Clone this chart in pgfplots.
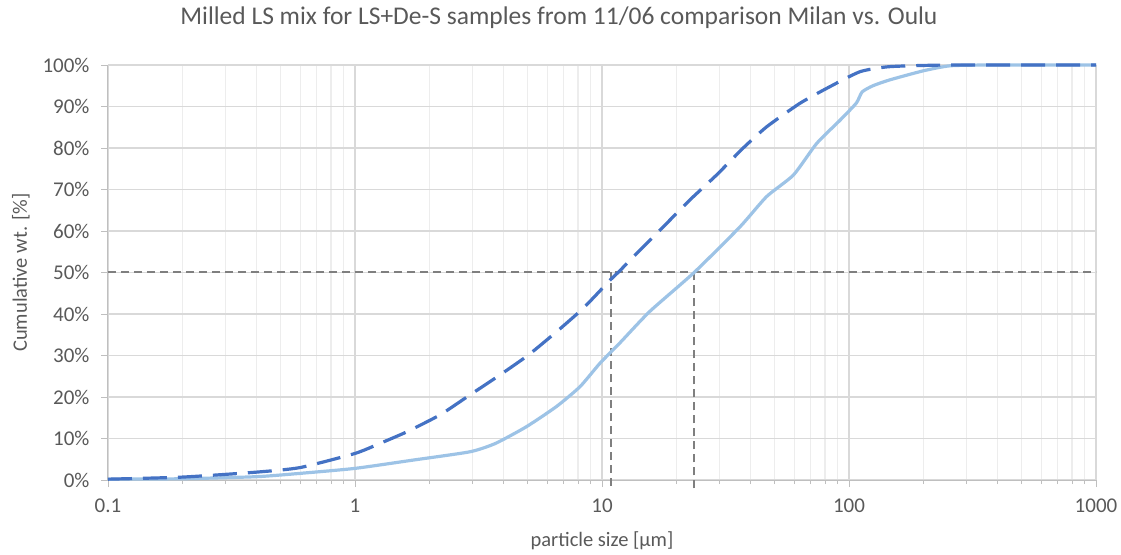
\documentclass[border=0pt]{standalone}
\usepackage{pgfplots}
\pgfplotsset{compat=1.18}
\usepackage{fontspec}
\setmainfont{Carlito}
\definecolor{darkblue}{HTML}{4472C4}
\definecolor{lightblue}{HTML}{9DC3E6}
\definecolor{refgray}{HTML}{7F7F7F}
\definecolor{txtgray}{HTML}{595959}
\definecolor{majgrid}{HTML}{D9D9D9}
\definecolor{mingrid}{HTML}{EDEDED}
\definecolor{axgray}{HTML}{BFBFBF}
\begin{document}
\begin{tikzpicture}
\path[use as bounding box] (-108pt,-74pt) rectangle (1013pt,480pt);
\begin{axis}[
  at={(0pt,0pt)}, anchor=south west,
  scale only axis, width=988pt, height=415pt,
  xmode=log, xmin=0.1, xmax=1000, ymin=0, ymax=100,
  clip=false,
  axis x line*=bottom, axis y line*=left,
  axis line style={axgray, line width=1pt},
  xtick={0.1,1,10,100,1000},
  xticklabels={0.1,1,10,100,1000},
  minor xtick={0.2,0.3,0.4,0.5,0.6,0.7,0.8,0.9,2,3,4,5,6,7,8,9,20,30,40,50,60,70,80,90,200,300,400,500,600,700,800,900},
  ytick={0,10,...,100},
  yticklabel={\pgfmathprintnumber{\tick}\%},
  /pgf/number format/assume math mode=true,
  tick align=outside,
  major tick length=7pt, minor tick length=4pt,
  tick style={axgray, line width=0.8pt},
  grid=both,
  major grid style={majgrid, line width=1.2pt},
  minor grid style={mingrid, line width=1.2pt},
  ticklabel style={font=\fontsize{21}{25}\selectfont, text=txtgray},
  xticklabel style={yshift=-8pt},
  yticklabel style={xshift=-8pt},
  xlabel={particle size [µm]},
  ylabel={Cumulative wt. [\%]},
  label style={font=\fontsize{20.5}{24}\selectfont, text=txtgray},
  xlabel style={yshift=-12pt},
  ylabel style={yshift=6pt},
]
% reference lines
\addplot[refgray, line width=2pt, dash pattern=on 8pt off 5pt] coordinates {(0.1,50) (1000,50)};
\addplot[refgray, line width=2pt, dash pattern=on 8pt off 5pt] coordinates {(10.9,-1.5) (10.9,50)};
\addplot[refgray, line width=2pt, dash pattern=on 8pt off 5pt] coordinates {(23.6,-2) (23.6,50)};
% light solid
\addplot[lightblue, line width=3.2pt, smooth, tension=0.35] coordinates {
(0.1,0.2) (0.2,0.3) (0.4,0.8) (0.6,1.6) (1,2.8) (1.72,4.8) (2.92,6.8) (3.7,8.8)
(4.93,12.8) (6.54,17.7) (8.15,22.5) (9.8,28.1) (11.8,33) (15.6,40.6) (23.6,50)
(36.2,61) (46.4,68.3) (59.6,73.5) (74,81.1) (92,86.7) (107,90.8) (113,93.5)
(125,95) (146,96.4) (200,98.6) (256,99.8) (372,100) (1000,100)};
% dark dashed
\addplot[darkblue, line width=3.2pt, dash pattern=on 24pt off 11pt, smooth, tension=0.35] coordinates {
(0.1,0.2) (0.2,0.7) (0.4,1.9) (0.6,3.0) (1,6.4) (1.26,8.8) (1.62,11.6) (2.21,15.7)
(2.92,20.5) (3.86,25.3) (5.03,30.1) (6.54,35.7) (8.4,41.4) (10.8,48.2) (11.8,50.4)
(13.4,53.8) (17.7,61) (22.7,67.5) (29.1,73.5) (37.3,80) (46.4,85.1) (63.4,90.8)
(83.8,94.8) (111,98.4) (146,99.6) (256,100) (1000,100)};
\end{axis}
\node[font=\fontsize{25.5}{30}\selectfont, text=txtgray] at (451pt,462pt) {Milled LS mix for LS+De-S samples from 11/06 comparison Milan vs. Oulu};
\end{tikzpicture}
\end{document}
